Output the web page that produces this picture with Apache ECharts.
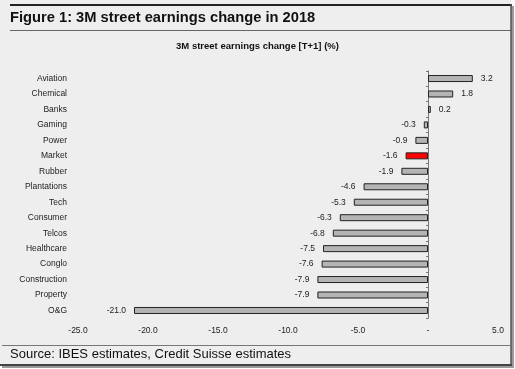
<!DOCTYPE html>
<html>
<head>
<meta charset="utf-8">
<script src="https://cdn.jsdelivr.net/npm/echarts@6/dist/echarts.min.js"></script>
<style>
html,body{margin:0;padding:0;background:#ffffff;}
#chart{width:515px;height:369px;}
</style>
</head>
<body>
<div id="chart"></div>
<script>
const categories = ["Aviation","Chemical","Banks","Gaming","Power","Market","Rubber","Plantations","Tech","Consumer","Telcos","Healthcare","Conglo","Construction","Property","O&G"];
const values = [3.2,1.8,0.2,-0.3,-0.9,-1.6,-1.9,-4.6,-5.3,-6.3,-6.8,-7.5,-7.6,-7.9,-7.9,-21.0];
const highlight = "Market";
const xTicks = {min:-25, max:5, interval:5};
const titleText = "Figure 1: 3M street earnings change in 2018";
const subtitleText = "3M street earnings change [T+1] (%)";
const sourceText = "Source: IBES estimates, Credit Suisse estimates";

const font = "'Liberation Sans', Arial, sans-serif";
const gridLeft = 78, gridRight = 17, W = 515;
const plotW = W - gridLeft - gridRight;
const zeroOffset = -plotW * (0 - xTicks.min) / (xTicks.max - xTicks.min);

const chart = echarts.init(document.getElementById('chart'), null, {renderer:'canvas'});

const barData = values.map((v,i) => ({
  value: v,
  itemStyle: {color: categories[i] === highlight ? '#ff0000' : '#b4b4b4'},
  label: {position: v >= 0 ? 'right' : 'left'}
}));

chart.setOption({
  backgroundColor: 'transparent',
  animation: false,
  graphic: [
    {type:'rect', z:-10, shape:{x:0,y:0,width:511,height:366}, style:{fill:'#eeeeee'}},
    {type:'rect', z:-9, shape:{x:511,y:6,width:3,height:362}, style:{fill:'#9a9a9a'}},
    {type:'rect', z:-9, shape:{x:2,y:366,width:512,height:2}, style:{fill:'#9a9a9a'}},
    {type:'line', shape:{x1:10,y1:5,x2:512,y2:5}, style:{stroke:'#222',lineWidth:2}},
    {type:'line', shape:{x1:10,y1:30.5,x2:511,y2:30.5}, style:{stroke:'#666',lineWidth:1}},
    {type:'line', shape:{x1:511,y1:4,x2:511,y2:366}, style:{stroke:'#555',lineWidth:1.5}},
    {type:'line', shape:{x1:2,y1:345.5,x2:511,y2:345.5}, style:{stroke:'#777',lineWidth:1}},
    {type:'line', shape:{x1:0,y1:365,x2:512,y2:365}, style:{stroke:'#444',lineWidth:2}},
    {type:'text', left:10, top:10, style:{text:titleText, font:"bold 14.7px "+font, fill:'#111'}},
    {type:'text', left:'center', top:41, style:{text:subtitleText, font:"bold 9.5px "+font, fill:'#111'}},
    {type:'text', left:10, top:348, style:{text:sourceText, font:"13px "+font, fill:'#111'}}
  ],
  grid: {left:gridLeft, right:gridRight, top:70.8, bottom:50.8, containLabel:false},
  xAxis: {
    type:'value', min:xTicks.min, max:xTicks.max, interval:xTicks.interval,
    axisLine:{show:false}, axisTick:{show:false}, splitLine:{show:false},
    axisLabel:{
      fontFamily:font, fontSize:8.5, color:'#222', margin:8,
      formatter: v => v === 0 ? '-' : v.toFixed(1)
    }
  },
  yAxis: [
    {
      type:'category', data:categories, inverse:true,
      axisLine:{show:false}, axisTick:{show:false},
      axisLabel:{fontFamily:font, fontSize:8.5, color:'#222', margin:11}
    },
    {
      type:'category', data:categories, inverse:true, position:'left', offset:zeroOffset,
      axisLine:{show:true, onZero:false, lineStyle:{color:'#777', width:1}},
      axisTick:{show:true, interval:0, length:2, lineStyle:{color:'#777'}},
      axisLabel:{show:false}
    }
  ],
  series: [{
    type:'bar', yAxisIndex:0, data:barData, barWidth:7,
    itemStyle:{borderColor:'#222', borderWidth:1},
    label:{
      show:true, distance:8, fontFamily:font, fontSize:8.5, color:'#222',
      formatter: p => p.value.toFixed(1)
    }
  }]
});
</script>
</body>
</html>
